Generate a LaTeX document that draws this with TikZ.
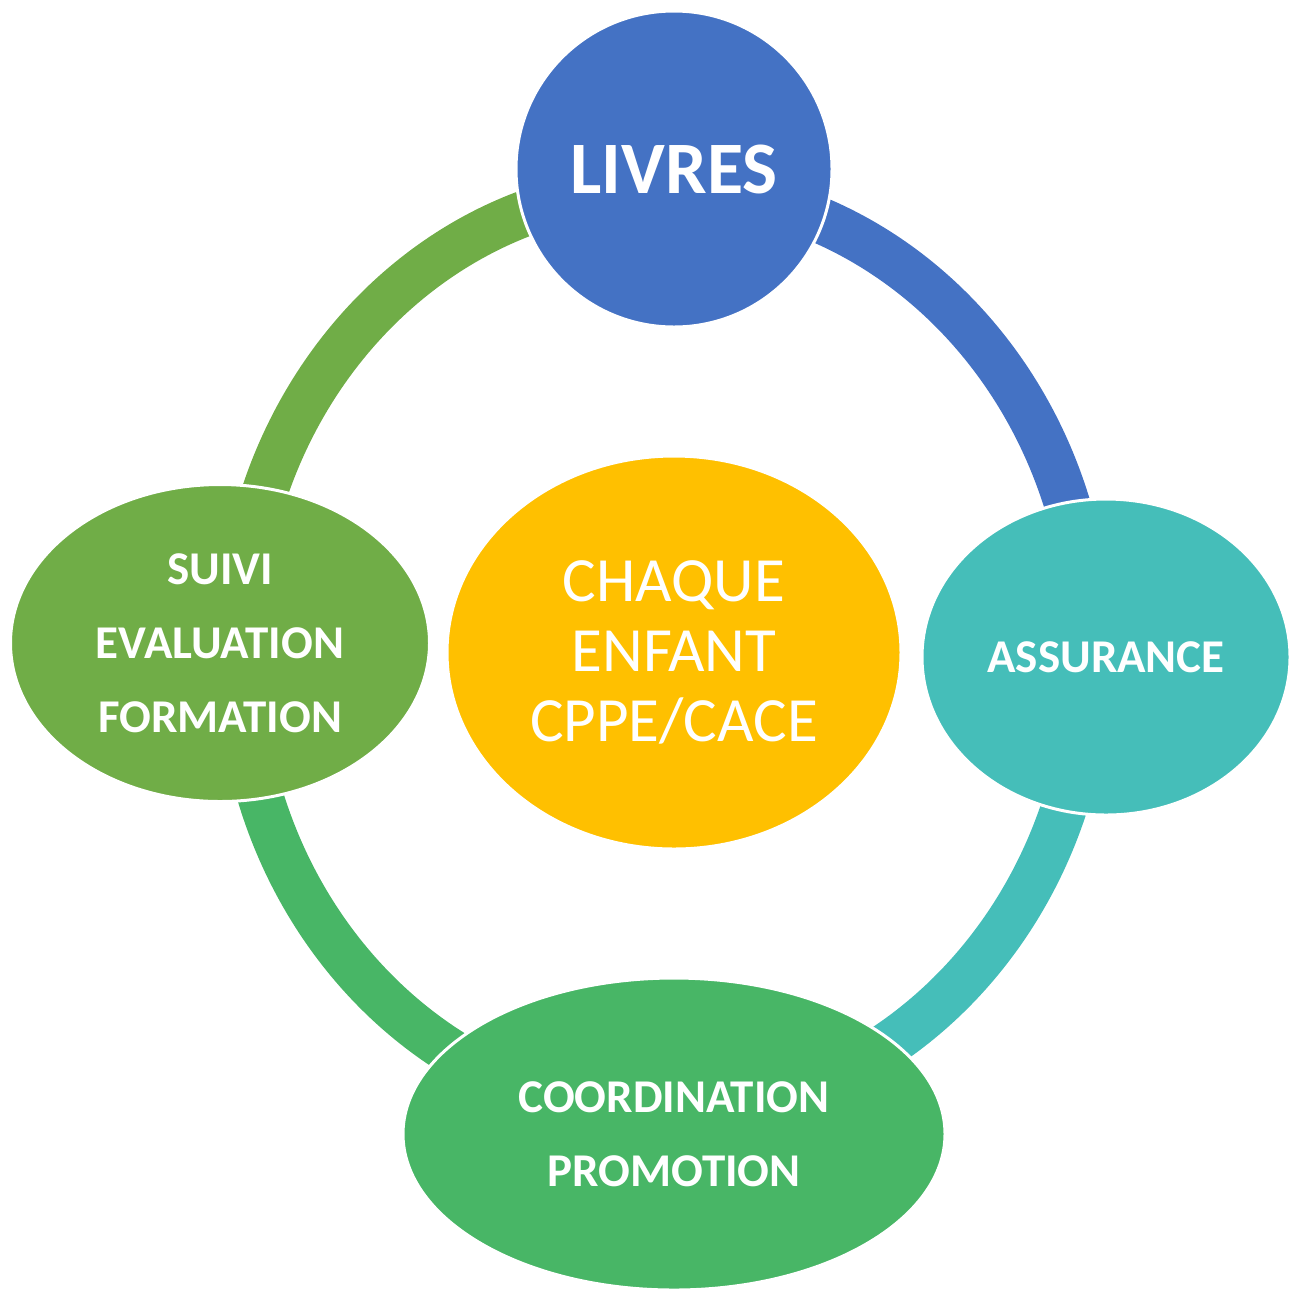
\documentclass[tikz,border=0pt]{standalone}
\usepackage{fontspec}
\setmainfont{Carlito}
\usepackage{tikz}
\usetikzlibrary{shapes.geometric}
\definecolor{livblue}{HTML}{4472C4}
\definecolor{midyellow}{HTML}{FFC000}
\definecolor{assteal}{HTML}{45BEB9}
\definecolor{suigreen}{HTML}{70AD47}
\definecolor{coogreen}{HTML}{48B666}
\tikzset{%
  cnode/.style={%
    ellipse,
    draw=white,
    line width=1.5pt,
    inner sep=0pt,
    text=white,
    align=center,
    font=\fontsize{23.5}{37}\selectfont\bfseries%
  },
  lnode/.style={%
    cnode,
    circle,
    font=\fontsize{37}{40}\selectfont\bfseries%
  },
  hnode/.style={%
    cnode,
    font=\fontsize{31.5}{35}\selectfont%
  },
  ringarc/.style={%
    line width=23pt,
    x radius=425,
    y radius=463
  }
}

\begin{document}
\begin{tikzpicture}[x=0.5pt, y=-0.5pt]
      \useasboundingbox (0,0) rectangle (1293,1292);

      \coordinate (hub) at (664,651);
      \draw[ringarc, livblue]   (hub) ++(-90:425 and 463) arc[start angle=-90, end angle=0];
      \draw[ringarc, assteal]   (hub) ++(0:425 and 463)   arc[start angle=0, end angle=90];
      \draw[ringarc, coogreen]  (hub) ++(90:425 and 463)  arc[start angle=90, end angle=180];
      \draw[ringarc, suigreen]  (hub) ++(180:425 and 463) arc[start angle=180, end angle=270];

      \node[lnode, fill=livblue, minimum size=158pt]                         (livres) at (674,169) {LIVRES};
      \node[hnode, fill=midyellow, minimum width=227pt, minimum height=196.5pt] (enfant) at (674,652.5) {CHAQUE\\ENFANT\\CPPE/CACE};
      \node[cnode, fill=assteal, minimum width=184pt, minimum height=158pt]     (assurance) at (1106,657) {ASSURANCE};
      \node[cnode, fill=suigreen, minimum width=209.5pt, minimum height=158.5pt] (suivi) at (220,643) {SUIVI\\EVALUATION\\FORMATION};
      \node[cnode, fill=coogreen, minimum width=271pt, minimum height=156pt]    (coord) at (674,1134) {COORDINATION\\PROMOTION};
    \end{tikzpicture}
\end{document}
